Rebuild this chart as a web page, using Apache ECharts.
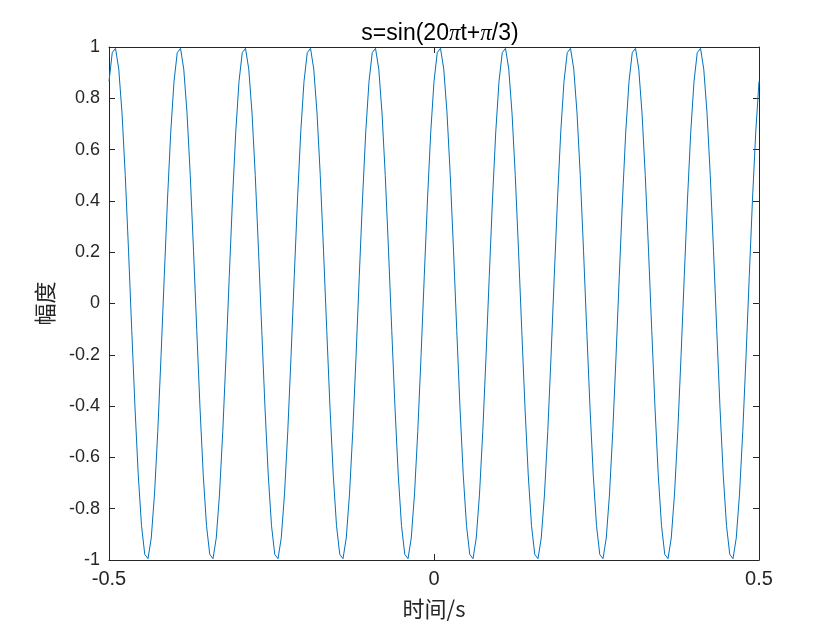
<!DOCTYPE html>
<html>
<head>
<meta charset="utf-8">
<script src="https://cdn.jsdelivr.net/npm/echarts@6/dist/echarts.min.js"></script>
<style>html,body{margin:0;padding:0;background:#fff;}#c{width:840px;height:630px;}</style>
</head>
<body>
<div id="c"></div>
<script>
// time samples (s)
const timeValues = [
-0.5,-0.495,-0.49,-0.485,-0.48,-0.475,-0.47,-0.465,-0.46,-0.455,-0.45,-0.445,-0.44,-0.435,-0.43,-0.425,-0.42,-0.415,-0.41,-0.405,
-0.4,-0.395,-0.39,-0.385,-0.38,-0.375,-0.37,-0.365,-0.36,-0.355,-0.35,-0.345,-0.34,-0.335,-0.33,-0.325,-0.32,-0.315,-0.31,-0.305,
-0.3,-0.295,-0.29,-0.285,-0.28,-0.275,-0.27,-0.265,-0.26,-0.255,-0.25,-0.245,-0.24,-0.235,-0.23,-0.225,-0.22,-0.215,-0.21,-0.205,
-0.2,-0.195,-0.19,-0.185,-0.18,-0.175,-0.17,-0.165,-0.16,-0.155,-0.15,-0.145,-0.14,-0.135,-0.13,-0.125,-0.12,-0.115,-0.11,-0.105,
-0.1,-0.095,-0.09,-0.085,-0.08,-0.075,-0.07,-0.065,-0.06,-0.055,-0.05,-0.045,-0.04,-0.035,-0.03,-0.025,-0.02,-0.015,-0.01,-0.005,
0,0.005,0.01,0.015,0.02,0.025,0.03,0.035,0.04,0.045,0.05,0.055,0.06,0.065,0.07,0.075,0.08,0.085,0.09,0.095,
0.1,0.105,0.11,0.115,0.12,0.125,0.13,0.135,0.14,0.145,0.15,0.155,0.16,0.165,0.17,0.175,0.18,0.185,0.19,0.195,
0.2,0.205,0.21,0.215,0.22,0.225,0.23,0.235,0.24,0.245,0.25,0.255,0.26,0.265,0.27,0.275,0.28,0.285,0.29,0.295,
0.3,0.305,0.31,0.315,0.32,0.325,0.33,0.335,0.34,0.345,0.35,0.355,0.36,0.365,0.37,0.375,0.38,0.385,0.39,0.395,
0.4,0.405,0.41,0.415,0.42,0.425,0.43,0.435,0.44,0.445,0.45,0.455,0.46,0.465,0.47,0.475,0.48,0.485,0.49,0.495,
0.5
];
// amplitude samples
const amplitudeValues = [
0.866,0.978,0.995,0.914,0.743,0.5,0.208,-0.105,-0.407,-0.669,-0.866,-0.978,-0.995,-0.914,-0.743,-0.5,-0.208,0.105,0.407,0.669,
0.866,0.978,0.995,0.914,0.743,0.5,0.208,-0.105,-0.407,-0.669,-0.866,-0.978,-0.995,-0.914,-0.743,-0.5,-0.208,0.105,0.407,0.669,
0.866,0.978,0.995,0.914,0.743,0.5,0.208,-0.105,-0.407,-0.669,-0.866,-0.978,-0.995,-0.914,-0.743,-0.5,-0.208,0.105,0.407,0.669,
0.866,0.978,0.995,0.914,0.743,0.5,0.208,-0.105,-0.407,-0.669,-0.866,-0.978,-0.995,-0.914,-0.743,-0.5,-0.208,0.105,0.407,0.669,
0.866,0.978,0.995,0.914,0.743,0.5,0.208,-0.105,-0.407,-0.669,-0.866,-0.978,-0.995,-0.914,-0.743,-0.5,-0.208,0.105,0.407,0.669,
0.866,0.978,0.995,0.914,0.743,0.5,0.208,-0.105,-0.407,-0.669,-0.866,-0.978,-0.995,-0.914,-0.743,-0.5,-0.208,0.105,0.407,0.669,
0.866,0.978,0.995,0.914,0.743,0.5,0.208,-0.105,-0.407,-0.669,-0.866,-0.978,-0.995,-0.914,-0.743,-0.5,-0.208,0.105,0.407,0.669,
0.866,0.978,0.995,0.914,0.743,0.5,0.208,-0.105,-0.407,-0.669,-0.866,-0.978,-0.995,-0.914,-0.743,-0.5,-0.208,0.105,0.407,0.669,
0.866,0.978,0.995,0.914,0.743,0.5,0.208,-0.105,-0.407,-0.669,-0.866,-0.978,-0.995,-0.914,-0.743,-0.5,-0.208,0.105,0.407,0.669,
0.866,0.978,0.995,0.914,0.743,0.5,0.208,-0.105,-0.407,-0.669,-0.866,-0.978,-0.995,-0.914,-0.743,-0.5,-0.208,0.105,0.407,0.669,
0.866
];
const titleText = 's=sin(20{p|π}t+{p|π}/3)';
const xAxisName = '时间/s';
const yAxisName = '幅度';

const seriesData = timeValues.map((t, i) => [t, amplitudeValues[i]]);

const axisColor = '#262626';
const font = '"Liberation Sans", Arial, Helvetica, sans-serif';
const cjk = '"Noto Sans CJK SC", sans-serif';

const chart = echarts.init(document.getElementById('c'), null, {renderer: 'canvas'});
function common() {
  return {
    axisLine: {show: true, onZero: false, lineStyle: {color: axisColor, width: 1}},
    splitLine: {show: false},
    axisTick: {show: true, inside: true, length: 6, lineStyle: {color: axisColor, width: 1}}
  };
}
chart.setOption({
  animation: false,
  backgroundColor: '#ffffff',
  title: {
    text: titleText,
    left: 435, top: 17, textAlign: 'center',
    textStyle: {
      fontFamily: font, fontSize: 23, fontWeight: 'normal', color: '#000',
      rich: {
        p: {fontFamily: '"Liberation Serif", "DejaVu Serif", serif', fontStyle: 'italic', fontSize: 23, color: '#000'}
      }
    }
  },
  grid: {left: 109, right: 81, top: 47, bottom: 70, containLabel: false},
  xAxis: [
    Object.assign({
      type: 'value', min: -0.5, max: 0.5, interval: 0.5, position: 'bottom',
      name: xAxisName, nameLocation: 'middle', nameGap: 38,
      nameTextStyle: {fontFamily: cjk, fontSize: 22, color: '#262626'},
      axisLabel: {fontFamily: font, fontSize: 20, color: '#262626', margin: 9}
    }, common()),
    Object.assign({
      type: 'value', min: -0.5, max: 0.5, interval: 0.5, position: 'top',
      axisLabel: {show: false}
    }, common())
  ],
  yAxis: [
    Object.assign({
      type: 'value', min: -1, max: 1, interval: 0.2, position: 'left',
      name: yAxisName, nameLocation: 'middle', nameGap: 53, nameRotate: 90,
      nameTextStyle: {fontFamily: cjk, fontSize: 22, color: '#262626'},
      axisLabel: {fontFamily: font, fontSize: 18, color: '#262626', margin: 9,
        formatter: v => (Math.abs(v) < 1e-9 ? '0' : String(+v.toFixed(1)))}
    }, common()),
    Object.assign({
      type: 'value', min: -1, max: 1, interval: 0.2, position: 'right',
      axisLabel: {show: false}
    }, common())
  ],
  series: [{
    type: 'line',
    xAxisIndex: 0, yAxisIndex: 0,
    data: seriesData,
    showSymbol: false,
    symbol: 'none',
    lineStyle: {color: '#0072BD', width: 1},
    clip: true
  }]
});
</script>
</body>
</html>
